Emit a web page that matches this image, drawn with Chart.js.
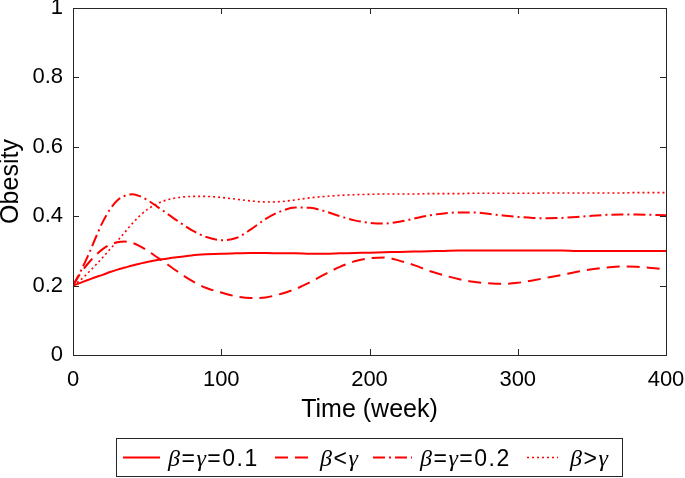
<!DOCTYPE html>
<html>
<head>
<meta charset="utf-8">
<script src="https://cdn.jsdelivr.net/npm/chart.js@4/dist/chart.umd.min.js"></script>
<style>
  body { margin: 0; background: #fff; }
  #obesityChart { display: block; }
</style>
</head>
<body>
<canvas id="obesityChart" width="685" height="478"></canvas>
<script>
// Time axis (weeks)
const weeks = [0, 5, 10, 15, 20, 25, 30, 35, 40, 45, 50,
  60, 70, 80, 90, 100, 110, 120, 130, 140, 150, 160, 170, 180, 190, 200,
  210, 220, 230, 240, 250, 260, 270, 280, 290, 300, 310, 320, 330, 340, 350,
  360, 370, 380, 390, 400];

// beta = gamma = 0.1 (solid)
const equalLow = [0.200, 0.208, 0.216, 0.224, 0.231, 0.239, 0.246, 0.252, 0.258, 0.263, 0.268,
  0.276, 0.282, 0.287, 0.290, 0.292, 0.293, 0.294, 0.294, 0.293, 0.293, 0.292, 0.292, 0.293, 0.294, 0.295,
  0.296, 0.297, 0.298, 0.299, 0.300, 0.301, 0.301, 0.301, 0.301, 0.301, 0.301, 0.301, 0.301, 0.300, 0.300,
  0.300, 0.300, 0.300, 0.300, 0.300];

// beta < gamma (dashed)
const betaLess = [0.200, 0.235, 0.263, 0.286, 0.305, 0.318, 0.325, 0.327, 0.323, 0.314, 0.301,
  0.272, 0.242, 0.214, 0.193, 0.180, 0.169, 0.164, 0.166, 0.176, 0.190, 0.210, 0.233, 0.254, 0.270, 0.279,
  0.281, 0.272, 0.259, 0.243, 0.230, 0.219, 0.211, 0.207, 0.205, 0.208, 0.215, 0.223, 0.231, 0.240, 0.247,
  0.252, 0.255, 0.254, 0.251, 0.247];

// beta = gamma = 0.2 (dash-dot)
const equalHigh = [0.200, 0.240, 0.285, 0.335, 0.383, 0.420, 0.446, 0.459, 0.463, 0.458, 0.447,
  0.418, 0.388, 0.360, 0.340, 0.331, 0.337, 0.362, 0.392, 0.414, 0.425, 0.424, 0.414, 0.400, 0.388, 0.381,
  0.379, 0.384, 0.393, 0.402, 0.408, 0.411, 0.411, 0.407, 0.402, 0.398, 0.395, 0.394, 0.395, 0.398, 0.401,
  0.404, 0.405, 0.405, 0.404, 0.403];

// beta > gamma (dotted)
const betaMore = [0.200, 0.216, 0.236, 0.258, 0.281, 0.305, 0.329, 0.354, 0.379, 0.401, 0.419,
  0.442, 0.453, 0.457, 0.457, 0.454, 0.449, 0.444, 0.441, 0.442, 0.447, 0.453, 0.457, 0.460, 0.462, 0.463,
  0.464, 0.464, 0.464, 0.465, 0.465, 0.465, 0.466, 0.466, 0.466, 0.466, 0.466, 0.467, 0.467, 0.467, 0.467,
  0.467, 0.467, 0.468, 0.468, 0.468];

const seriesLabels = ['β=γ=0.1', 'β<γ', 'β=γ=0.2', 'β>γ'];

// Tick labels
const xTicks = [0, 100, 200, 300, 400];
const xTickLabels = ['0', '100', '200', '300', '400'];
const yTicks = [0, 0.2, 0.4, 0.6, 0.8, 1];
const yTickLabels = ['0', '0.2', '0.4', '0.6', '0.8', '1'];

const FONT = "'Liberation Sans', Arial, Helvetica, sans-serif";
const RED = '#ff0000';
const AXIS = '#262626';

function toPoints(values) {
  return weeks.map((t, i) => ({ x: t, y: values[i] }));
}

function lineSet(label, values, dash, width) {
  return {
    label: label,
    data: toPoints(values),
    borderColor: RED,
    borderWidth: width,
    borderDash: dash,
    pointRadius: 0,
    fill: false,
    cubicInterpolationMode: 'monotone',
  };
}

// Box with inward ticks on all four sides, MATLAB style
const boxFrame = {
  id: 'boxFrame',
  afterDraw(chart) {
    const { ctx, chartArea: a, scales } = chart;
    const tickLen = 6;
    ctx.save();
    ctx.strokeStyle = AXIS;
    ctx.lineWidth = 1;
    ctx.setLineDash([]);
    ctx.strokeRect(a.left + 0.5, a.top + 0.5, a.right - a.left, a.bottom - a.top);
    ctx.beginPath();
    xTicks.forEach((v) => {
      const px = Math.round(scales.x.getPixelForValue(v)) + 0.5;
      ctx.moveTo(px, a.bottom);
      ctx.lineTo(px, a.bottom - tickLen);
      ctx.moveTo(px, a.top);
      ctx.lineTo(px, a.top + tickLen);
    });
    yTicks.forEach((v) => {
      const py = Math.round(scales.y.getPixelForValue(v)) + 0.5;
      ctx.moveTo(a.left, py);
      ctx.lineTo(a.left + tickLen, py);
      ctx.moveTo(a.right, py);
      ctx.lineTo(a.right - tickLen, py);
    });
    ctx.stroke();
    ctx.restore();
  },
};

// Legend box below the axes, greek letters in italics
const bottomLegend = {
  id: 'bottomLegend',
  afterDraw(chart) {
    const ctx = chart.ctx;
    const box = { left: 116.5, top: 438.5, width: 506, height: 38 };
    const lineY = 457.5;
    const baseY = 466;
    const samples = [[123, 160], [275, 310], [373, 412], [527, 558]];
    const textX = [168, 320, 420, 570];
    const track = 1.5;

    ctx.save();
    ctx.fillStyle = '#fff';
    ctx.fillRect(box.left, box.top, box.width, box.height);
    ctx.strokeStyle = AXIS;
    ctx.lineWidth = 1;
    ctx.strokeRect(box.left, box.top, box.width, box.height);

    chart.data.datasets.forEach((ds, i) => {
      ctx.strokeStyle = ds.borderColor;
      ctx.lineWidth = ds.borderWidth;
      ctx.setLineDash(ds.borderDash || []);
      ctx.beginPath();
      ctx.moveTo(samples[i][0], lineY);
      ctx.lineTo(samples[i][1], lineY);
      ctx.stroke();

      ctx.setLineDash([]);
      ctx.fillStyle = '#000';
      ctx.textBaseline = 'alphabetic';
      ctx.textAlign = 'left';
      let x = textX[i];
      for (const ch of ds.label) {
        const greek = /[\u03b1-\u03c9]/.test(ch);
        ctx.font = greek ? "italic 24px 'Liberation Serif', 'Times New Roman', serif" : '23px ' + FONT;
        ctx.fillText(ch, x, baseY);
        x += ctx.measureText(ch).width + track;
      }
    });
    ctx.restore();
  },
};

const ctx = document.getElementById('obesityChart').getContext('2d');
new Chart(ctx, {
  type: 'line',
  data: {
    datasets: [
      lineSet(seriesLabels[0], equalLow, [], 2),
      lineSet(seriesLabels[1], betaLess, [13, 7], 2),
      lineSet(seriesLabels[2], equalHigh, [12, 4, 2, 4], 2),
      lineSet(seriesLabels[3], betaMore, [2, 3], 1.6),
    ],
  },
  options: {
    responsive: false,
    animation: false,
    layout: { padding: { top: 8, right: 19, left: 0, bottom: 0 } },
    plugins: {
      legend: { display: false },
      tooltip: { enabled: false },
    },
    scales: {
      x: {
        type: 'linear',
        min: 0,
        max: 400,
        grid: { display: false, drawTicks: false },
        border: { display: false },
        afterBuildTicks: (scale) => { scale.ticks = xTicks.map((v) => ({ value: v })); },
        afterFit: (scale) => {
          scale.height = 123;
          scale.paddingLeft = 0;
          scale.paddingRight = 0;
        },
        ticks: {
          color: '#000',
          font: { family: FONT, size: 22 },
          padding: 12,
          maxRotation: 0,
          callback: (value) => xTickLabels[xTicks.indexOf(value)],
        },
        title: {
          display: true,
          text: 'Time (week)',
          color: '#000',
          font: { family: FONT, size: 25, lineHeight: 1.2 },
          padding: { top: 0, bottom: 53 },
        },
      },
      y: {
        type: 'linear',
        min: 0,
        max: 1,
        grid: { display: false, drawTicks: false },
        border: { display: false },
        afterBuildTicks: (scale) => { scale.ticks = yTicks.map((v) => ({ value: v })); },
        afterFit: (scale) => {
          scale.width = 73;
          scale.paddingTop = 0;
          scale.paddingBottom = 0;
        },
        ticks: {
          color: '#000',
          font: { family: FONT, size: 22 },
          padding: 10,
          callback: (value) => yTickLabels[yTicks.indexOf(value)],
        },
        title: {
          display: true,
          text: 'Obesity',
          color: '#000',
          font: { family: FONT, size: 25, lineHeight: 0.9 },
          padding: { top: 0, bottom: 0 },
        },
      },
    },
  },
  plugins: [boxFrame, bottomLegend],
});
</script>
</body>
</html>
